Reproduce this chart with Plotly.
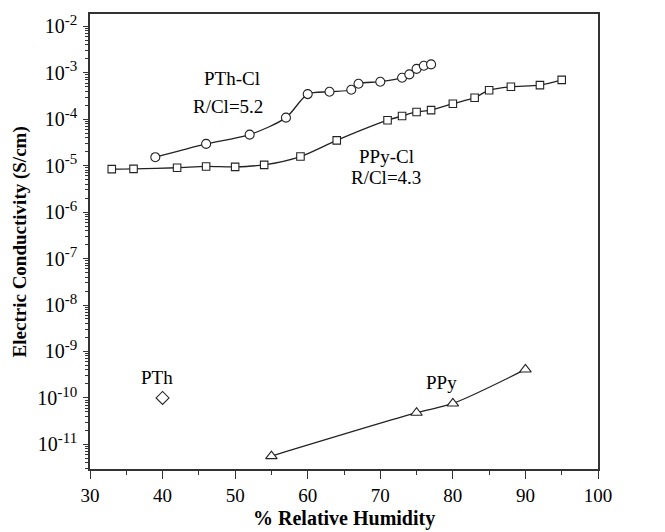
import plotly.graph_objects as go

# ---------------- data ----------------
pthcl_rh = [39, 46, 52, 57, 60, 63, 66, 67, 70, 73, 74, 75, 76, 77]
pthcl_sigma = [1.52e-5, 2.94e-5, 4.65e-5, 1.08e-4, 3.47e-4, 3.9e-4, 4.3e-4,
               5.8e-4, 6.4e-4, 7.8e-4, 9.2e-4, 1.21e-3, 1.41e-3, 1.51e-3]

ppycl_rh = [33, 36, 42, 46, 50, 54, 59, 64, 71, 73, 75, 77, 80, 83, 85, 88, 92, 95]
ppycl_sigma = [8.4e-6, 8.5e-6, 9.0e-6, 9.6e-6, 9.4e-6, 1.04e-5, 1.57e-5, 3.5e-5,
               9.5e-5, 1.17e-4, 1.43e-4, 1.57e-4, 2.15e-4, 2.9e-4, 4.2e-4,
               5.0e-4, 5.4e-4, 7.0e-4]

ppy_rh = [55, 75, 80, 90]
ppy_sigma = [5.6e-12, 4.8e-11, 7.6e-11, 4.1e-10]

pth_rh = [40]
pth_sigma = [1.0e-10]

x_ticks = [30, 40, 50, 60, 70, 80, 90, 100]
y_exponents = [-2, -3, -4, -5, -6, -7, -8, -9, -10, -11]
y_ticktext = ['10<sup><span style="font-size:15px">-%d</span></sup>' % (-e)
              for e in y_exponents]

FONT = "Liberation Serif, Times New Roman, serif"
INK = "#222222"

fig = go.Figure()

def add_series(x, y, symbol, size, lines=True):
    fig.add_trace(go.Scatter(
        x=x, y=y,
        mode="lines+markers" if lines else "markers",
        line=dict(color=INK, width=1.3, shape="spline", smoothing=0.8),
        marker=dict(symbol=symbol, size=size, color="white",
                    line=dict(color=INK, width=1.1)),
        showlegend=False,
        cliponaxis=False,
    ))

add_series(ppycl_rh, ppycl_sigma, "square", 7.5)
add_series(pthcl_rh, pthcl_sigma, "circle", 9)
add_series(ppy_rh, ppy_sigma, "triangle-up", 10)
add_series(pth_rh, pth_sigma, "diamond", 10, lines=False)

minor_vals = [m * 10.0 ** e for e in range(-12, -1) for m in range(2, 10)]

fig.update_xaxes(
    range=[30, 100],
    tickmode="array", tickvals=x_ticks,
    ticks="outside", ticklen=8, tickwidth=1.3, tickcolor="#333",
    minor=dict(ticks="outside", ticklen=4, tickwidth=1.3, tickcolor="#333",
               tickmode="array", tickvals=[35, 45, 55, 65, 75, 85, 95]),
    showline=True, linecolor="#333", linewidth=1.5, mirror=True,
    showgrid=False, zeroline=False,
    tickfont=dict(family=FONT, size=19, color="black"),
)
fig.update_yaxes(
    type="log", range=[-11.53, -1.736],
    tickmode="array", tickvals=[10.0 ** e for e in y_exponents], ticktext=y_ticktext,
    ticks="outside", ticklen=5, tickwidth=1.3, tickcolor="#333",
    minor=dict(ticks="outside", ticklen=3, tickwidth=1, tickcolor="#333",
               tickmode="array", tickvals=minor_vals),
    showline=True, linecolor="#333", linewidth=1.5, mirror=True,
    showgrid=False, zeroline=False,
    tickfont=dict(family=FONT, size=20, color="black"),
    ticklabelstandoff=2,
)

def label(x, ylog, text):
    fig.add_annotation(x=x, y=ylog, xref="x", yref="y", text=text,
                       showarrow=False, font=dict(family=FONT, size=19, color="black"))

label(49.6, -3.12, "PTh-Cl")
label(49.0, -3.72, "R/Cl=5.2")
label(70.8, -4.81, "PPy-Cl")
label(70.8, -5.255, "R/Cl=4.3")
label(39.3, -9.57, "PTh")
label(78.5, -9.67, "PPy")

fig.add_annotation(x=0.5, y=-0.109, xref="paper", yref="paper",
                   text="<b>% Relative Humidity</b>", showarrow=False,
                   xanchor="center", yanchor="middle",
                   font=dict(family=FONT, size=20, color="black"))
fig.add_annotation(x=-0.138, y=0.5, xref="paper", yref="paper",
                   text="<b>Electric Conductivity (S/cm)</b>", showarrow=False,
                   textangle=-90, xanchor="center", yanchor="middle",
                   font=dict(family=FONT, size=19, color="black"))

fig.update_layout(
    width=657, height=524,
    margin=dict(l=82, r=67, t=4, b=63),
    paper_bgcolor="white", plot_bgcolor="white",
)

fig.write_html("out.html")
